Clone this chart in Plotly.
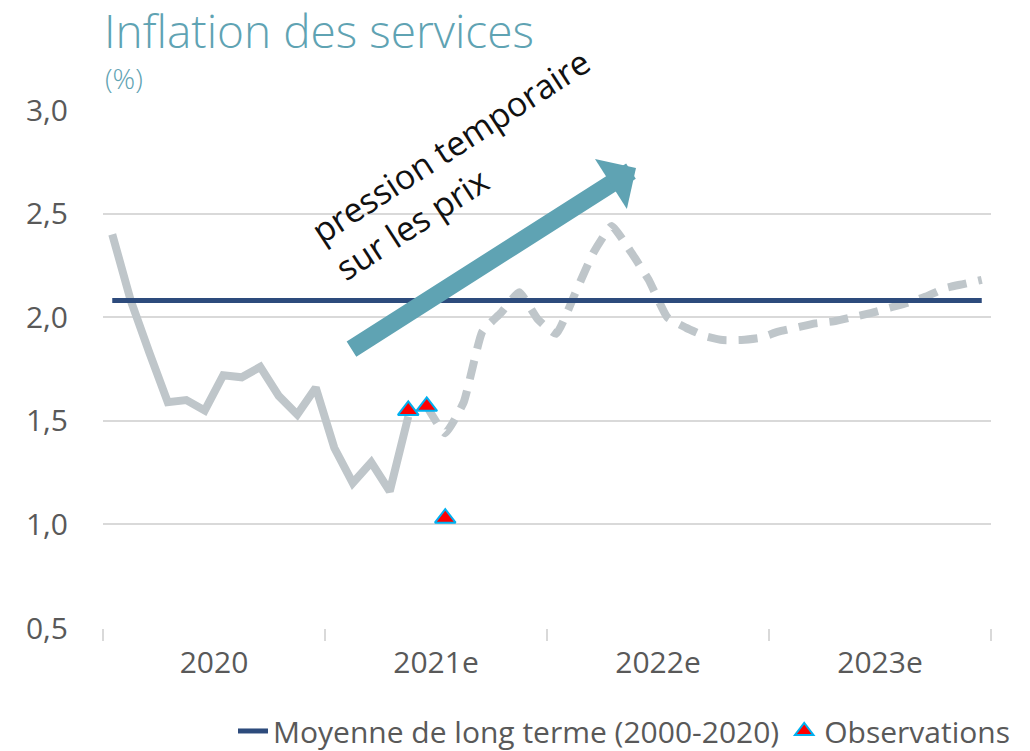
import plotly.graph_objects as go

# ---- data ----
YEARS = ["2020", "2021e", "2022e", "2023e"]
MONTHS_PER_YEAR = 12
months = list(range(len(YEARS) * MONTHS_PER_YEAR))  # monthly index 0..47

# realised services inflation (solid)
solid_x = months[0:17]
solid_y = [2.40, 2.08, 1.83, 1.59, 1.60, 1.55, 1.72, 1.71, 1.76, 1.62,
           1.53, 1.66, 1.37, 1.20, 1.30, 1.16, 1.52]

# projection (dashed)
proj_x = months[17:48]
proj_y = [1.57, 1.44, 1.59, 1.93, 2.02, 2.12, 1.99, 1.92, 2.11, 2.31,
          2.44, 2.32, 2.18, 2.00, 1.95, 1.91, 1.89, 1.89, 1.90, 1.93,
          1.95, 1.97, 1.98, 2.00, 2.02, 2.045, 2.07, 2.10, 2.14, 2.16, 2.18]

# observations
obs_x = [16, 17, 18]
obs_y = [1.55, 1.57, 1.03]

LONG_TERM_MEAN = 2.08

TEAL = "#5FA3B3"
NAVY = "#2D4B7C"
GREY_LINE = "#BFC6CA"
GRID = "#D9D9D9"
TXT = "#595959"
FONT = "Open Sans"

fig = go.Figure()

fig.add_trace(go.Scatter(
    x=solid_x, y=solid_y, mode="lines",
    line=dict(color=GREY_LINE, width=8), showlegend=False, hoverinfo="skip"))

fig.add_trace(go.Scatter(
    x=proj_x, y=proj_y, mode="lines",
    line=dict(color=GREY_LINE, width=8, dash="19px,12px", shape="spline", smoothing=0.4),
    showlegend=False, hoverinfo="skip"))

fig.add_trace(go.Scatter(
    x=[months[0], months[-1]], y=[LONG_TERM_MEAN, LONG_TERM_MEAN], mode="lines",
    line=dict(color=NAVY, width=5), name="Moyenne de long terme (2000-2020)"))

fig.add_trace(go.Scatter(
    x=obs_x, y=obs_y, mode="markers",
    marker=dict(symbol="triangle-up", size=18, color="#FF0000",
                line=dict(color="#00B0F0", width=2)),
    name="Observations"))

year_centers = [k * MONTHS_PER_YEAR + (MONTHS_PER_YEAR - 1) / 2 for k in range(len(YEARS))]
year_bounds = [k * MONTHS_PER_YEAR - 0.5 for k in range(len(YEARS) + 1)]

fig.update_layout(
    width=1030, height=751,
    margin=dict(l=103, r=39, t=110, b=123, autoexpand=False),
    paper_bgcolor="white", plot_bgcolor="white",
    separators=", ",
    font=dict(family=FONT, color=TXT, size=30),
    xaxis=dict(
        range=[-0.5, len(months) - 0.5], automargin=False,
        tickmode="array", tickvals=year_centers, ticktext=YEARS,
        ticks="", showgrid=False, zeroline=False, showline=False,
        tickfont=dict(family=FONT, size=30, color=TXT),
        ticklabelstandoff=14,
        minor=dict(tickmode="array", tickvals=year_bounds, ticks="outside",
                   ticklen=12, tickwidth=1.5, tickcolor=GRID, showgrid=False),
    ),
    yaxis=dict(
        range=[0.5, 3.0], dtick=0.5, tick0=0.5, tickformat=".1f", automargin=False,
        showgrid=True, gridcolor=GRID, gridwidth=1.5, zeroline=False,
        showline=False, ticks="",
        tickfont=dict(family=FONT, size=30, color=TXT),
        ticklabelstandoff=34,
    ),
    legend=dict(
        orientation="h", x=1.027, xanchor="right", y=-0.1988, yanchor="middle",
        font=dict(family=FONT, size=30, color=TXT),
        bgcolor="rgba(0,0,0,0)", itemwidth=30,
    ),
)

# title & unit
fig.add_annotation(text="Inflation des services", xref="paper", yref="paper",
                   x=0.0, y=1.1535, xanchor="left", yanchor="middle", showarrow=False,
                   borderpad=0,
                   font=dict(family=FONT, size=46, color=TEAL, weight=300))
fig.add_annotation(text="(%)", xref="paper", yref="paper",
                   x=0.0, y=1.062, xanchor="left", yanchor="middle", showarrow=False,
                   font=dict(family=FONT, size=28, color=TEAL, weight=300))

# big arrow
fig.add_annotation(text="", xref="paper", yref="paper", x=0.6002, y=0.888,
                   showarrow=True, axref="pixel", ayref="pixel", ax=-286, ay=182,
                   arrowhead=1, arrowsize=0.55, arrowwidth=18, arrowcolor=TEAL)

# arrow label
fig.add_annotation(text="pression temporaire<br>sur les prix", xref="paper", yref="paper",
                   x=0.4054, y=0.895, xanchor="center", yanchor="middle",
                   showarrow=False, textangle=-33, align="left",
                   font=dict(family=FONT, size=34, color="#111111"))

fig.write_html("out.html",
               config={"displayModeBar": False},
               post_script="document.body.style.margin='0';document.body.style.overflow='hidden';")
